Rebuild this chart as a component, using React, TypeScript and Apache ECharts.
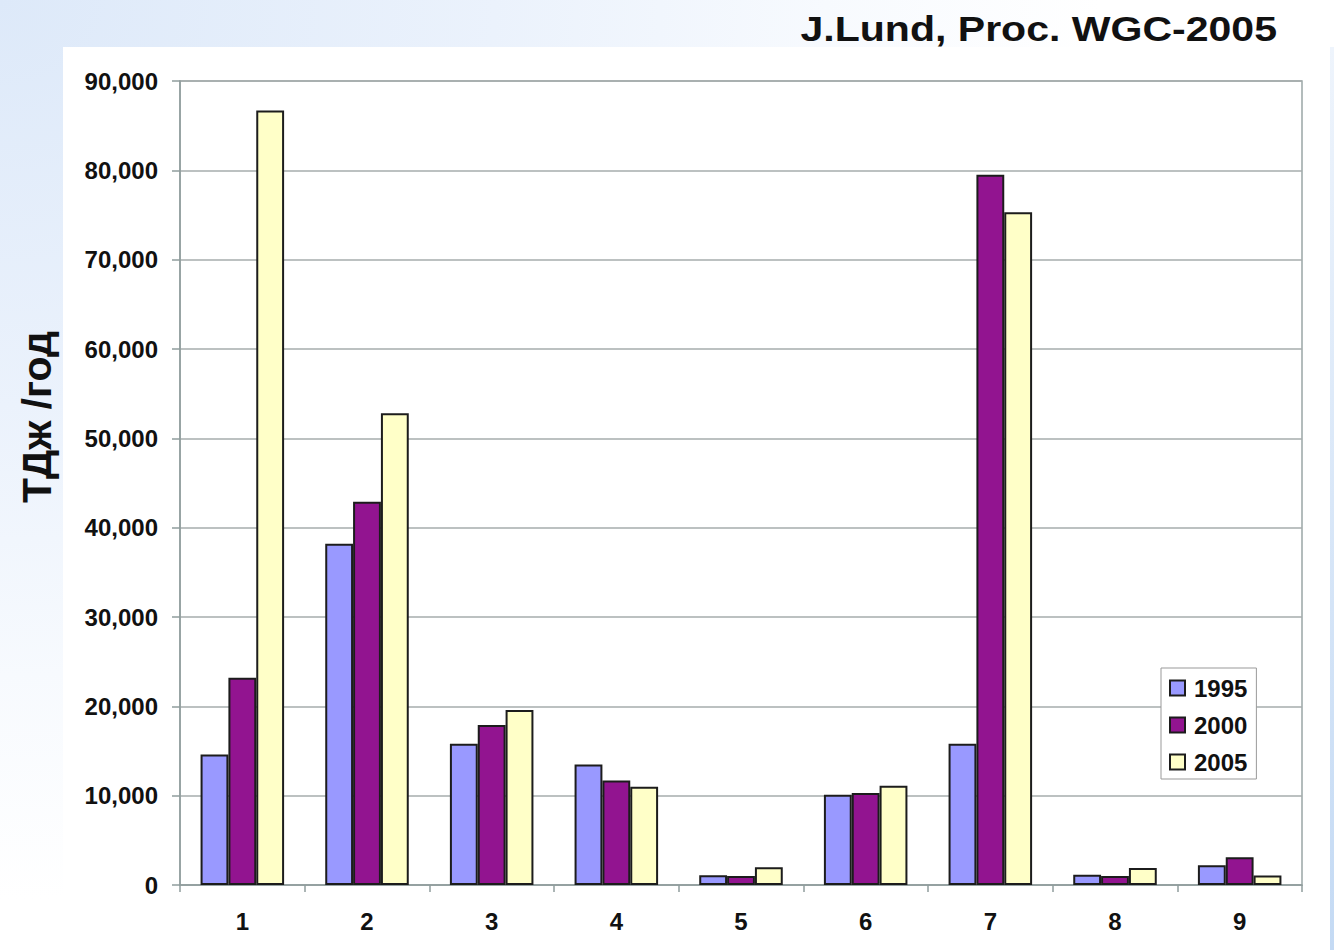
import React, { useEffect, useRef } from "react";
import * as echarts from "echarts";

const categories = ["1", "2", "3", "4", "5", "6", "7", "8", "9"];
const seriesNames = ["1995", "2000", "2005"];
const values1995 = [14600, 38200, 15800, 13500, 1100, 10100, 15800, 1150, 2200];
const values2000 = [23200, 42900, 17900, 11700, 1000, 10300, 79500, 1000, 3100];
const values2005 = [86700, 52800, 19600, 11000, 2000, 11100, 75300, 1900, 1050];
const seriesColors = ["#9999FF", "#921490", "#FFFFC8"];
const yTicks = { min: 0, max: 90000, interval: 10000 };
const titleText = "J.Lund, Proc. WGC-2005";
const yAxisTitle = "ТДж /год";

const FONT = "'Liberation Sans', Arial, sans-serif";

export default function App() {
  const ref = useRef<HTMLDivElement>(null);
  useEffect(() => {
    if (!ref.current) return;
    const chart = echarts.init(ref.current, null, { renderer: "svg" });
    const data = [values1995, values2000, values2005];
    chart.setOption({
      animation: false,
      backgroundColor: "transparent",
      graphic: [
        {
          type: "text",
          x: 1277,
          y: 28,
          scaleX: 1.14,
          style: {
            text: titleText,
            font: `bold 36px ${FONT}`,
            fill: "#111",
            textAlign: "right",
            textVerticalAlign: "middle",
          },
        },
        {
          type: "text",
          x: 37,
          y: 417,
          rotation: Math.PI / 2,
          style: {
            text: yAxisTitle,
            font: `bold 41px ${FONT}`,
            fill: "#111",
            textAlign: "center",
            textVerticalAlign: "middle",
          },
        },
      ],
      legend: {
        orient: "vertical",
        left: 1161,
        top: 668,
        padding: [8, 9, 5, 8],
        itemGap: 13,
        itemWidth: 15,
        itemHeight: 15,
        backgroundColor: "#fff",
        borderColor: "#999",
        borderWidth: 1,
        icon: "rect",
        textStyle: {
          fontFamily: FONT,
          fontSize: 24,
          fontWeight: "bold",
          color: "#111",
          padding: [0, 0, 0, 4],
        },
        data: seriesNames,
      },
      grid: {
        left: 180,
        top: 81,
        width: 1122,
        height: 804,
        show: true,
        backgroundColor: "transparent",
        borderColor: "#9aa6a6",
        borderWidth: 1.5,
      },
      xAxis: {
        type: "category",
        data: categories,
        axisLine: { lineStyle: { color: "#8f9c9c", width: 1.5 } },
        axisTick: { show: true, length: 7, lineStyle: { color: "#8f9c9c", width: 1.5 } },
        axisLabel: {
          margin: 24,
          fontFamily: FONT,
          fontSize: 24,
          fontWeight: "bold",
          color: "#111",
        },
      },
      yAxis: {
        type: "value",
        min: yTicks.min,
        max: yTicks.max,
        interval: yTicks.interval,
        axisLine: { show: true, lineStyle: { color: "#8f9c9c", width: 1.5 } },
        axisTick: { show: true, length: 8, lineStyle: { color: "#8f9c9c", width: 1.5 } },
        splitLine: { lineStyle: { color: "#a6acac", width: 1.5 } },
        axisLabel: {
          margin: 22,
          fontFamily: FONT,
          fontSize: 24,
          fontWeight: "bold",
          color: "#111",
          formatter: (v: number) => v.toLocaleString("en-US"),
        },
      },
      series: seriesNames.map((name, i) => ({
        name,
        type: "bar",
        data: data[i],
        barGap: "0%",
        barCategoryGap: "33%",
        itemStyle: { color: seriesColors[i], borderColor: "#1c1c1c", borderWidth: 2 },
      })),
    });
    return () => chart.dispose();
  }, []);

  return (
    <div
      style={{
        position: "absolute",
        left: 0,
        top: 0,
        width: 1334,
        height: 950,
        overflow: "hidden",
        background:
          "radial-gradient(ellipse 1100px 900px at 0% 0%, #dde9f9 0%, #ebf2fc 45%, #f7fafe 75%, #ffffff 100%)",
      }}
    >
      <div
        style={{
          position: "absolute",
          left: 63,
          top: 47,
          width: 1267,
          height: 903,
          background: "#fff",
        }}
      />
      <div
        style={{
          position: "absolute",
          left: 1330,
          top: 47,
          width: 4,
          height: 903,
          background: "linear-gradient(to bottom, #eef4fc, #c4daf4)",
        }}
      />
      <div
        ref={ref}
        style={{ position: "absolute", left: 0, top: 0, width: 1334, height: 950 }}
      />
    </div>
  );
}
